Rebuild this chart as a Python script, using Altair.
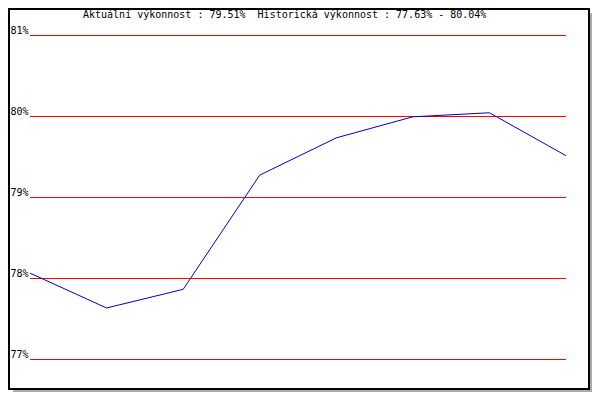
import altair as alt
import pandas as pd

# data
points = [0, 1, 2, 3, 4, 5, 6, 7]
values = [78.06, 77.63, 77.86, 79.27, 79.73, 79.99, 80.04, 79.51]
y_ticks = [77, 78, 79, 80, 81]
title_text = "Aktuální výkonnost : 79.51%\u00a0 Historická výkonnost : 77.63% - 80.04%"

df = pd.DataFrame({"i": points, "v": values})
one = pd.DataFrame({"k": [0]})

W, H = 536, 324
FONT = "DejaVu Sans Mono"

xs = alt.Scale(domain=[0, 7], nice=False, zero=False)
ys = alt.Scale(domain=[77, 81], nice=False, zero=False)

shadow = alt.Chart(one).mark_rect(color="#aaaaaa").encode(
    x=alt.value(-17), x2=alt.value(562), y=alt.value(-22), y2=alt.value(357)
)
frame = alt.Chart(one).mark_rect(fill="white", stroke="black", strokeWidth=2).encode(
    x=alt.value(-21), x2=alt.value(559), y=alt.value(-26), y2=alt.value(354)
)

grid = alt.Chart(pd.DataFrame({"t": y_ticks})).mark_rule(color="#ff0000", strokeWidth=1, yOffset=0.5).encode(
    y=alt.Y("t:Q", scale=ys, axis=alt.Axis(
        values=y_ticks, labelExpr="datum.value + '%'", labelFont=FONT, labelFontSize=10,
        labelColor="black", labelAlign="right", labelBaseline="bottom", labelPadding=2,
        ticks=False, domain=False, grid=False, title=None, zindex=2)),
    x=alt.value(0), x2=alt.value(W),
)

line = alt.Chart(df).mark_line(color="#0000cc", strokeWidth=1).encode(
    x=alt.X("i:Q", scale=xs, axis=None),
    y=alt.Y("v:Q", scale=ys),
)

title = alt.Chart(one).mark_text(
    text=title_text, font=FONT, fontSize=10, align="left", baseline="alphabetic", color="black"
).encode(x=alt.value(53), y=alt.value(-17))

chart = alt.layer(shadow, frame, grid, line, title).properties(
    width=W, height=H,
    autosize=alt.AutoSizeParams(type="none"),
    padding={"left": 22, "top": 27, "right": 26, "bottom": 33},
).configure_view(stroke=None).configure(background="white")

chart.save("out.html", embed_options={"renderer": "svg", "actions": False})
